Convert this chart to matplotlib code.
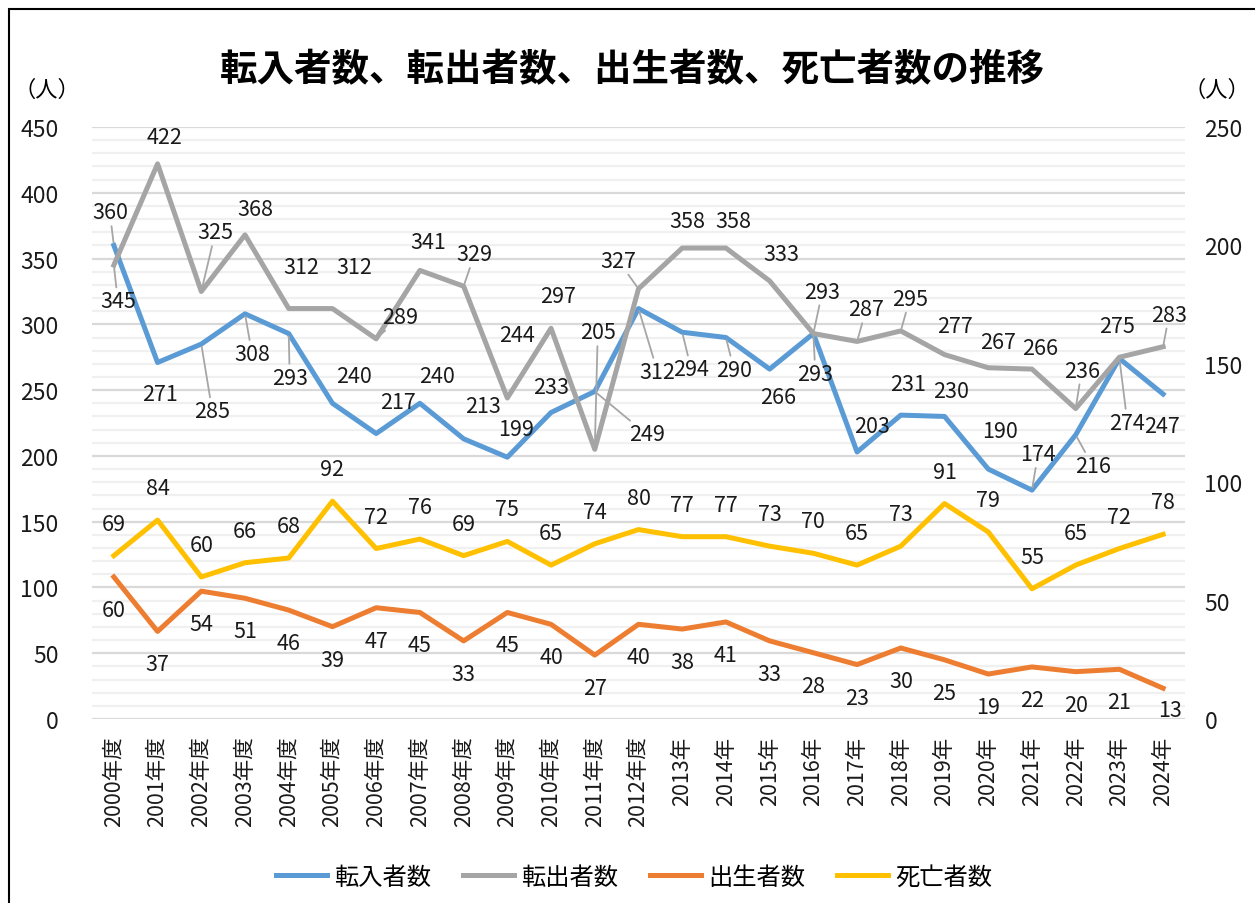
import matplotlib
matplotlib.use("Agg")
import matplotlib.pyplot as plt
from matplotlib.ticker import MultipleLocator
from matplotlib.patches import Rectangle

plt.rcParams['font.family'] = ['Noto Sans CJK JP', 'DejaVu Sans']

# data
years = ["2000年度", "2001年度", "2002年度", "2003年度", "2004年度", "2005年度",
         "2006年度", "2007年度", "2008年度", "2009年度", "2010年度", "2011年度",
         "2012年度", "2013年", "2014年", "2015年", "2016年", "2017年", "2018年",
         "2019年", "2020年", "2021年", "2022年", "2023年", "2024年"]
tennyu = [360, 271, 285, 308, 293, 240, 217, 240, 213, 199, 233, 249, 312,
          294, 290, 266, 293, 203, 231, 230, 190, 174, 216, 274, 247]
tenshutsu = [345, 422, 325, 368, 312, 312, 289, 341, 329, 244, 297, 205, 327,
             358, 358, 333, 293, 287, 295, 277, 267, 266, 236, 275, 283]
shussei = [60, 37, 54, 51, 46, 39, 47, 45, 33, 45, 40, 27, 40,
           38, 41, 33, 28, 23, 30, 25, 19, 22, 20, 21, 13]
shibou = [69, 84, 60, 66, 68, 92, 72, 76, 69, 75, 65, 74, 80,
          77, 77, 73, 70, 65, 73, 91, 79, 55, 65, 72, 78]

# data label offsets in pixels (dx, dy up)
tennyu_off = [(-4, 33), (2, -31), (11, -67), (7, -40), (1, -44), (22, 27), (22, 32),
              (17, 27), (19, 33), (9, 28), (0, 25), (52, -43), (19, -63), (9, -37),
              (8, -32), (8, -28), (2, -40), (15, 26), (7, 31), (7, 25), (12, 38),
              (6, 36), (17, -31), (8, -64), (-1, -32)]
tenshutsu_off = [(4, -36), (7, 27), (14, 59), (10, 26), (13, 42), (22, 42), (24, 22),
                 (8, 28), (11, 32), (10, 63), (7, 32), (3, 117), (-20, 28), (5, 27),
                 (7, 27), (12, 27), (9, 42), (9, 32), (9, 32), (10, 29), (10, 26),
                 (8, 21), (6, 38), (-2, 31), (6, 32)]
tennyu_lead = [0, 2, 3, 4, 11, 12, 13, 14, 16, 21, 22, 23]
tenshutsu_lead = [0, 2, 6, 8, 11, 12, 16, 17, 18, 22, 24]

blue = "#5B9BD5"
gray = "#A5A5A5"
orange = "#ED7D31"
yellow = "#FFC000"

fig = plt.figure(figsize=(12.55, 9.04), dpi=100)
ax = fig.add_axes([0.0733, 0.2035, 0.8709, 0.6549])
ax2 = ax.twinx()

x = list(range(len(years)))
lw = 3.6
l1, = ax.plot(x, tennyu, color=blue, lw=lw, zorder=3)
l2, = ax.plot(x, tenshutsu, color=gray, lw=lw, zorder=4)
l3, = ax2.plot(x, shussei, color=orange, lw=lw, zorder=3)
l4, = ax2.plot(x, shibou, color=yellow, lw=lw, zorder=4)

lab = dict(fontsize=15.5, color="#1a1a1a", ha="center", va="center",
           textcoords="offset pixels", zorder=6)
lead = dict(arrowstyle="-", color="#a6a6a6", lw=1.3, shrinkA=0, shrinkB=2)

for i, v in enumerate(tennyu):
    ap = lead if i in tennyu_lead else None
    ax.annotate(str(v), (i, v), xytext=tennyu_off[i], arrowprops=ap, **lab)
for i, v in enumerate(tenshutsu):
    ap = lead if i in tenshutsu_lead else None
    ax.annotate(str(v), (i, v), xytext=tenshutsu_off[i], arrowprops=ap, **lab)
for i, v in enumerate(shibou):
    ax2.annotate(str(v), (i, v), xytext=(0, 32), **lab)
for i, v in enumerate(shussei):
    off = (7, -22) if i == len(shussei) - 1 else (0, -33)
    ax2.annotate(str(v), (i, v), xytext=off, **lab)

ax.set_xlim(-0.5, len(years) - 0.5)
ax.set_ylim(0, 450)
ax2.set_ylim(0, 250)
ax.yaxis.set_major_locator(MultipleLocator(50))
ax.yaxis.set_minor_locator(MultipleLocator(10))
ax2.yaxis.set_major_locator(MultipleLocator(50))
ax.grid(which="major", axis="y", color="#d9d9d9", lw=1.6)
ax.grid(which="minor", axis="y", color="#f0f0f0", lw=1.6)
ax.set_axisbelow(True)

ax.set_xticks(x)
ax.set_xticklabels(years, rotation=90, fontsize=15.5, color="#1a1a1a")
ax.tick_params(axis="x", length=0, pad=12)
ax.tick_params(axis="y", which="both", length=0, pad=24, labelsize=16.5, labelcolor="#1a1a1a")
ax2.tick_params(axis="y", length=0, pad=14, labelsize=16.5, labelcolor="#1a1a1a")
for a in (ax, ax2):
    for s in a.spines.values():
        s.set_visible(False)

fig.text(0.504, 1 - 70 / 904, "転入者数、転出者数、出生者数、死亡者数の推移",
         ha="center", va="center", fontsize=27, fontweight="bold")
fig.text(47 / 1255, 1 - 90 / 904, "（人）", ha="center", va="center", fontsize=16)
fig.text(1217 / 1255, 1 - 90 / 904, "（人）", ha="center", va="center", fontsize=16)

fig.legend([l1, l2, l3, l4], ["転入者数", "転出者数", "出生者数", "死亡者数"],
           loc="center", bbox_to_anchor=(0.505, 1 - 878 / 904), ncol=4, frameon=False,
           fontsize=17.5, handlelength=2.1, handletextpad=0.3, columnspacing=1.3)

fig.patches.append(Rectangle((9 / 1255, -0.1), 1.2, 1.1 - 10 / 904, transform=fig.transFigure,
                             fill=False, edgecolor="black", lw=1.5, clip_on=False))

fig.savefig("out.png", dpi=100)
